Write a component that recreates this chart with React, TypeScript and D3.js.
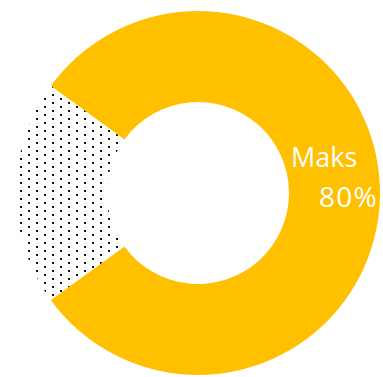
import React from "react";
import * as d3 from "d3";

const categories = ["Maks", "Rest"];
const values = [80, 20];
const labels = ["Maks", ""];
const percentLabels = ["80%", ""];

const W = 383;
const H = 377;
const cx = 198;
const cy = 193;
const outerR = 182;
const innerR = 91;

export default function App() {
  const pie = d3
    .pie<number>()
    .sort(null)
    .startAngle((-54 * Math.PI) / 180)
    .endAngle((306 * Math.PI) / 180);
  const arcs = pie(values);
  const arcGen = d3.arc<d3.PieArcDatum<number>>().innerRadius(innerR).outerRadius(outerR);
  const fills = ["#FFC000", "url(#dots)"];

  return (
    <svg
      width={W}
      height={H}
      style={{ position: "absolute", left: 0, top: 0, display: "block", background: "#fff" }}
    >
      <defs>
        <pattern id="dots" width={16} height={8} patternUnits="userSpaceOnUse" x={cx} y={cy}>
          <rect width={16} height={8} fill="#fff" />
          <rect x={0} y={0} width={2} height={2} fill="#111" />
          <rect x={8} y={4} width={2} height={2} fill="#111" />
        </pattern>
      </defs>
      <g transform={`translate(${cx},${cy})`}>
        {arcs.map((a, i) => (
          <path key={categories[i]} d={arcGen(a) || ""} fill={fills[i]} />
        ))}
      </g>
      <g fill="#fff" fontFamily="'Open Sans', sans-serif">
        <text x={291} y={167} fontSize={27}>{labels[0]}</text>
        <text x={319} y={206.5} fontSize={28} letterSpacing={1.2}>{percentLabels[0]}</text>
      </g>
    </svg>
  );
}
